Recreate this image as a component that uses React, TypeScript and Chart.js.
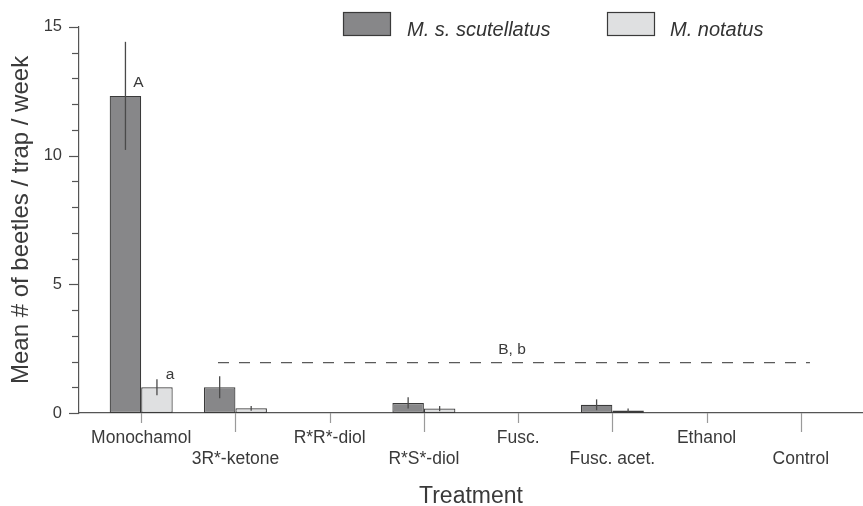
import React, { useEffect, useRef } from 'react';
import { Chart, registerables } from 'chart.js';

Chart.register(...registerables);

const categories = ['Monochamol', '3R*-ketone', 'R*R*-diol', 'R*S*-diol', 'Fusc.', 'Fusc. acet.', 'Ethanol', 'Control'];
const seriesNames = ['M. s. scutellatus', 'M. notatus'];
const scutellatus = [12.32, 1.0, 0, 0.39, 0, 0.32, 0, 0];
const scutellatusErr = [2.1, 0.43, 0, 0.22, 0, 0.21, 0, 0];
const notatus = [1.0, 0.18, 0, 0.17, 0, 0.1, 0, 0];
const notatusErr = [0.31, 0.09, 0, 0.1, 0, 0.07, 0, 0];
const yMajorTicks = [0, 5, 10, 15];
const groupLineX = [0.815, 7.097];
const groupLineY = [1.96, 1.96];
const letterLabels = ['A', 'a', 'B, b'];
const letterX = [-0.03, 0.306, 3.935];
const letterY = [12.65, 1.32, 2.28];

const FONT = "'Liberation Sans', Arial, Helvetica, sans-serif";
const DARK = '#878789';
const LIGHT = '#dfe0e1';
const EDGE = '#3a3a3a';
const AXIS = '#555555';
const TEXT = '#3a3a3a';

const errorsBySeries = [scutellatusErr, notatusErr];

const errorBarPlugin = {
  id: 'errorBars',
  afterDatasetsDraw(chart: any) {
    const ctx = chart.ctx;
    const y = chart.scales.y;
    ctx.save();
    ctx.strokeStyle = '#4a4a4a';
    ctx.lineWidth = 1.3;
    [0, 1].forEach((d) => {
      const meta = chart.getDatasetMeta(d);
      const vals = chart.data.datasets[d].data;
      const errs = errorsBySeries[d];
      meta.data.forEach((el: any, i: number) => {
        const e = errs[i];
        if (!e) return;
        const v = vals[i].y;
        ctx.beginPath();
        ctx.moveTo(el.x, y.getPixelForValue(v + e));
        ctx.lineTo(el.x, y.getPixelForValue(Math.max(v - e, 0)));
        ctx.stroke();
      });
    });
    ctx.restore();
  },
};

const tickMarksPlugin = {
  id: 'tickMarks',
  afterDraw(chart: any) {
    const ctx = chart.ctx;
    const x = chart.scales.x;
    const y = chart.scales.y;
    const area = chart.chartArea;
    ctx.save();
    ctx.lineWidth = 1.2;
    ctx.strokeStyle = AXIS;
    y.ticks.forEach((t: any) => {
      const py = Math.round(y.getPixelForValue(t.value)) + 0.5;
      const major = yMajorTicks.includes(t.value);
      ctx.beginPath();
      ctx.moveTo(area.left - (major ? 10 : 7), py);
      ctx.lineTo(area.left, py);
      ctx.stroke();
    });
    ctx.strokeStyle = '#9a9a9a';
    x.ticks.forEach((t: any, i: number) => {
      const px = Math.round(x.getPixelForValue(t.value)) + 0.5;
      ctx.beginPath();
      ctx.moveTo(px, area.bottom);
      ctx.lineTo(px, area.bottom + (i % 2 === 0 ? 10 : 19));
      ctx.stroke();
    });
    ctx.restore();
  },
};

const lettersPlugin = {
  id: 'letters',
  afterDraw(chart: any) {
    const ctx = chart.ctx;
    const x = chart.scales.x;
    const y = chart.scales.y;
    ctx.save();
    ctx.fillStyle = TEXT;
    ctx.font = `15.5px ${FONT}`;
    ctx.textAlign = 'center';
    ctx.textBaseline = 'alphabetic';
    letterLabels.forEach((s, i) => {
      ctx.fillText(s, x.getPixelForValue(letterX[i]), y.getPixelForValue(letterY[i]));
    });
    ctx.restore();
  },
};

const legendPlugin = {
  id: 'customLegend',
  afterDraw(chart: any) {
    const ctx = chart.ctx;
    const boxes = [
      { bx: 343, tx: 407 },
      { bx: 607, tx: 670 },
    ];
    ctx.save();
    chart.data.datasets.slice(0, 2).forEach((ds: any, i: number) => {
      const b = boxes[i];
      ctx.fillStyle = ds.backgroundColor;
      ctx.fillRect(b.bx, 12, 48, 24);
      ctx.strokeStyle = EDGE;
      ctx.lineWidth = 1.2;
      ctx.strokeRect(b.bx + 0.5, 12.5, 47, 23);
      ctx.fillStyle = '#333';
      ctx.font = `italic 20px ${FONT}`;
      ctx.textAlign = 'left';
      ctx.textBaseline = 'alphabetic';
      ctx.fillText(ds.label, b.tx, 35.5);
    });
    ctx.restore();
  },
};

export default function App() {
  const ref = useRef<HTMLCanvasElement | null>(null);

  useEffect(() => {
    if (!ref.current) return;
    const chart = new Chart(ref.current, {
      type: 'bar',
      data: {
        datasets: [
          {
            type: 'bar',
            label: seriesNames[0],
            data: scutellatus.map((v, i) => ({ x: i, y: v })),
            backgroundColor: DARK,
            borderColor: EDGE,
            borderWidth: 1.2,
            borderSkipped: false,
            categoryPercentage: 0.6686,
            barPercentage: 1.0,
          },
          {
            type: 'bar',
            label: seriesNames[1],
            data: notatus.map((v, i) => ({ x: i, y: v })),
            backgroundColor: LIGHT,
            borderColor: EDGE,
            borderWidth: 1.2,
            borderSkipped: false,
            categoryPercentage: 0.6686,
            barPercentage: 1.0,
          },
          {
            type: 'line',
            label: 'B, b',
            data: groupLineX.map((v, i) => ({ x: v, y: groupLineY[i] })),
            borderColor: '#5a5a5a',
            borderWidth: 1.3,
            borderDash: [11, 10],
            pointRadius: 0,
            fill: false,
          },
        ] as any,
      },
      options: {
        responsive: false,
        animation: false,
        devicePixelRatio: 1,
        layout: { padding: { top: 20, left: 0, right: 0, bottom: 0 } },
        plugins: {
          legend: { display: false },
          tooltip: { enabled: false },
        },
        scales: {
          x: {
            type: 'linear',
            offset: false,
            min: -0.66,
            max: 7.66,
            afterBuildTicks: (scale: any) => {
              scale.ticks = categories.map((_, i) => ({ value: i }));
            },
            afterFit: (scale: any) => {
              scale.height = 93;
            },
            grid: { display: false, offset: false, drawTicks: false, tickLength: 0 },
            border: { display: true, color: AXIS, width: 1.2 },
            ticks: {
              autoSkip: false,
              maxRotation: 0,
              minRotation: 0,
              padding: 14.5,
              color: TEXT,
              font: { family: FONT, size: 17.5, lineHeight: 1.2 },
              callback: (value: any) => {
                const i = Math.round(Number(value));
                const name = categories[i] ?? '';
                return i % 2 === 0 ? name : ['', name];
              },
            },
            title: {
              display: true,
              text: 'Treatment',
              color: TEXT,
              font: { family: FONT, size: 23, lineHeight: 0.8 },
              padding: 0,
            },
          },
          y: {
            min: 0,
            max: 15,
            afterFit: (scale: any) => {
              scale.width = 79;
            },
            grid: { display: false, drawTicks: false, tickLength: 0 },
            border: { display: true, color: AXIS, width: 1.2 },
            ticks: {
              stepSize: 1,
              autoSkip: false,
              padding: 17,
              color: TEXT,
              font: { family: FONT, size: 16.5 },
              callback: (value: any) => (yMajorTicks.includes(Number(value)) ? String(value) : ''),
            },
            title: {
              display: true,
              text: 'Mean # of beetles / trap / week',
              color: TEXT,
              font: { family: FONT, size: 24, lineHeight: 1.2 },
              padding: { top: 7, bottom: 0 },
            },
          },
        },
      } as any,
      plugins: [errorBarPlugin, tickMarksPlugin, lettersPlugin, legendPlugin],
    });
    return () => chart.destroy();
  }, []);

  return (
    <div style={{ position: 'absolute', left: 0, top: 0, width: 863, height: 506, background: '#ffffff' }}>
      <canvas ref={ref} width={863} height={506} style={{ display: 'block', width: 863, height: 506 }} />
    </div>
  );
}
